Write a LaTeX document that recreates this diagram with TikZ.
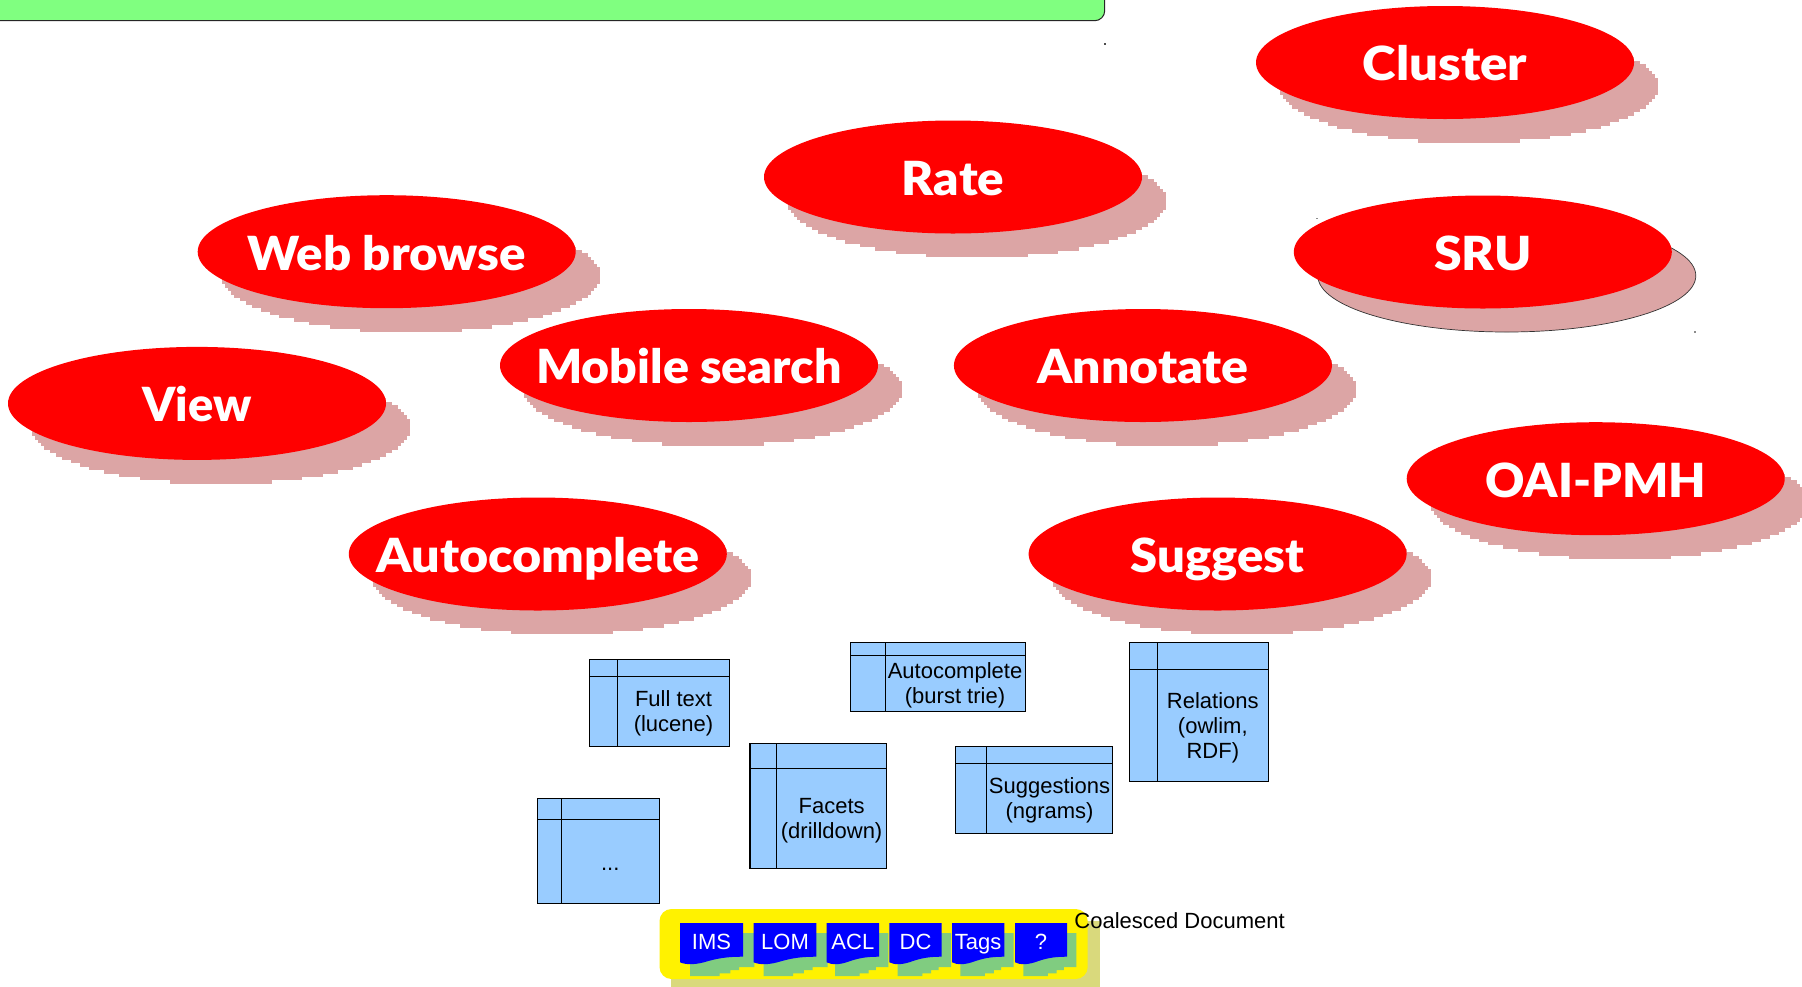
\documentclass[tikz,border=0pt]{standalone}
\usepackage{fontspec}
\setmainfont{Liberation Sans}
\newfontfamily\lato{Lato Black}
\usetikzlibrary{shapes.geometric}
\definecolor{redell}{HTML}{FF0000}
\definecolor{pinkshade}{HTML}{DCA5A5}
\definecolor{tableblue}{HTML}{99CCFF}
\definecolor{greenbar}{HTML}{80FF80}
\definecolor{yellowshade}{HTML}{D9D97C}
\definecolor{docshade}{HTML}{80CC80}
\definecolor{docblue}{HTML}{0000FF}
\tikzset{
  action/.style={ellipse,fill=redell,text=white,inner sep=0pt,outer sep=0pt,minimum width=189pt,minimum height=56.5pt,
    font=\lato\fontsize{23.5}{28}\selectfont},
  shaderow/.style={fill=pinkshade,draw=none},
  tablebox/.style={fill=tableblue,draw=black,line width=0.55pt},
  tableline/.style={draw=black,line width=0.5pt},
  tabletext/.style={inner sep=0pt,align=center,font=\fontsize{11}{12.5}\selectfont,text=black},
  doctext/.style={inner sep=0pt,anchor=base,text=white,font=\fontsize{11}{13}\selectfont},
  tick/.style={fill=black!70,draw=none}
}
% label of exact width, baseline a little below the centre of the ellipse
\newcommand{\actiontext}[2]{\smash{\makebox[0pt]{\raisebox{-9.2pt}{\resizebox{#1pt}{\height}{#2}}}}}
% stepped bitmap-like shadow of an ellipse
\newcommand{\stepshadow}[2]{%
  \foreach \r in {-16,...,16}{%
    \pgfmathsetmacro{\hw}{3*round(63*sqrt(max(0,1-(\r*3.4/56.5)*(\r*3.4/56.5))))}%
    \fill[shaderow] ({#1+24-\hw},{#2+24+\r*3.4-1.9}) rectangle ({#1+24+\hw},{#2+24+\r*3.4+1.9});%
  }%
}
% table: x0 y0 x1 y1 vx hy
\newcommand{\tablecell}[6]{%
  \draw[tablebox] (#1,#2) rectangle (#3,#4);
  \draw[tableline] (#5,#2) -- (#5,#4) (#1,#6) -- (#3,#6);
}
% doc: x0 width name label
\newcommand{\docshade}[2]{%
  \begin{scope}[shift={(#1,923)},xscale=#2/100]
    \fill[docshade] (16,10) -- (118,10) -- (118,44) -- (94,44) -- (94,47) -- (80,47) -- (80,50.3) -- (63,50.3) -- (63,53) -- (16,53) -- cycle;
  \end{scope}}
\newcommand{\docface}[4]{%
  \begin{scope}[shift={(#1,923)},xscale=#2/100]
    \fill[docblue] (0,0) -- (100,0) -- (100,33.7) .. controls (80,33.7) and (65,34.5) .. (45,38) .. controls (25,42) and (10,42) .. (0,39.3) -- cycle;
  \end{scope}
  \node[doctext] (#3) at ({#1+#2/2},949.5) {#4};}
\begin{document}
\begin{tikzpicture}[x=0.5pt,y=-0.5pt]
\useasboundingbox (0,0) rectangle (1802,986);
\clip (0,0) rectangle (1802,986);
\fill[white] (0,0) rectangle (1802,986);
% top bar
\draw[fill=greenbar,draw=black!85,line width=0.5pt,rounded corners=5pt] (-30,-30) rectangle (1104.7,20.7);
% handles
\fill[tick] (1104,43) rectangle (1105.5,44.5);
\fill[black!45] (1316,217.5) rectangle (1317.5,219);
\fill[black!45] (1694,331) rectangle (1695.5,332.5);
% shadows
\stepshadow{1445}{62.5}
\stepshadow{953}{177}
\stepshadow{386.7}{251.7}
\stepshadow{689}{365.5}
\stepshadow{1142.9}{365.5}
\stepshadow{197}{403.4}
\stepshadow{537.8}{554}
\stepshadow{1217.6}{554}
\stepshadow{1595.7}{478.7}
\draw[fill=pinkshade,draw=black!80,line width=0.35pt] (1506.8,275.7) ellipse [x radius=189,y radius=56.3];
% ellipses
\node[action] (cluster) at (1445,62.5) {\actiontext{82.2}{Cluster}};
\node[action] (rate) at (953,177) {\actiontext{51.1}{Rate}};
\node[action] (web) at (386.7,251.7) {\actiontext{139}{Web browse}};
\node[action] (sru) at (1482.8,252) {\actiontext{48.8}{SRU}};
\node[action] (mobile) at (689,365.5) {\actiontext{152.8}{Mobile search}};
\node[action] (annotate) at (1142.9,365.5) {\actiontext{105.7}{Annotate}};
\node[action] (view) at (197,403.4) {\actiontext{54.6}{View}};
\node[action] (oai) at (1595.7,478.7) {\actiontext{110.3}{OAI-PMH}};
\node[action] (autoc) at (537.8,554) {\actiontext{161.5}{Autocomplete}};
\node[action] (suggest) at (1217.6,554) {\actiontext{86.8}{Suggest}};
% tables
\tablecell{589.3}{659.3}{729.6}{746.7}{617.3}{676.3}
\node[tabletext] (tfull) at (673.5,713.3) {Full text\\(lucene)};
\tablecell{850.5}{642.3}{1025.5}{711.7}{885.2}{655.3}
\node[tabletext] (tauto) at (955,685.6) {Autocomplete\\(burst trie)};
\tablecell{1129.6}{642.3}{1268.9}{781.3}{1157.1}{669.3}
\node[tabletext] (trel) at (1212.8,727.3) {Relations\\(owlim,\\RDF)};
\tablecell{750}{743.7}{886.2}{868.3}{776.5}{768}
\node[tabletext] (tfac) at (831.6,821) {Facets\\(drilldown)};
\tablecell{955.6}{746.7}{1112.2}{833.3}{986.7}{763.7}
\node[tabletext] (tsug) at (1049.5,800.3) {Suggestions\\(ngrams)};
\tablecell{537.8}{798.7}{659.7}{903.3}{561.7}{819.3}
\node[inner sep=0pt,anchor=base,font=\fontsize{11}{12.5}\selectfont] (tmore) at (610.2,870) {...};
% coalesced document
\fill[yellowshade] (671,921) rectangle (1100,995);
\fill[yellow,rounded corners=6pt] (659.5,909) rectangle (1087.7,979);
\docshade{680}{63}
\docshade{753.7}{62.6}
\docshade{826.7}{52.3}
\docshade{889.3}{52.4}
\docshade{952}{52.3}
\docshade{1015}{52}
\docface{680}{63}{dims}{IMS}
\docface{753.7}{62.6}{dlom}{LOM}
\docface{826.7}{52.3}{dacl}{ACL}
\docface{889.3}{52.4}{ddc}{DC}
\docface{952}{52.3}{dtags}{Tags}
\docface{1015}{52}{dq}{?}
\node[inner sep=0pt,anchor=base west,font=\fontsize{11}{13}\selectfont] (coal) at (1074,928) {Coalesced Document};
\end{tikzpicture}
\end{document}
